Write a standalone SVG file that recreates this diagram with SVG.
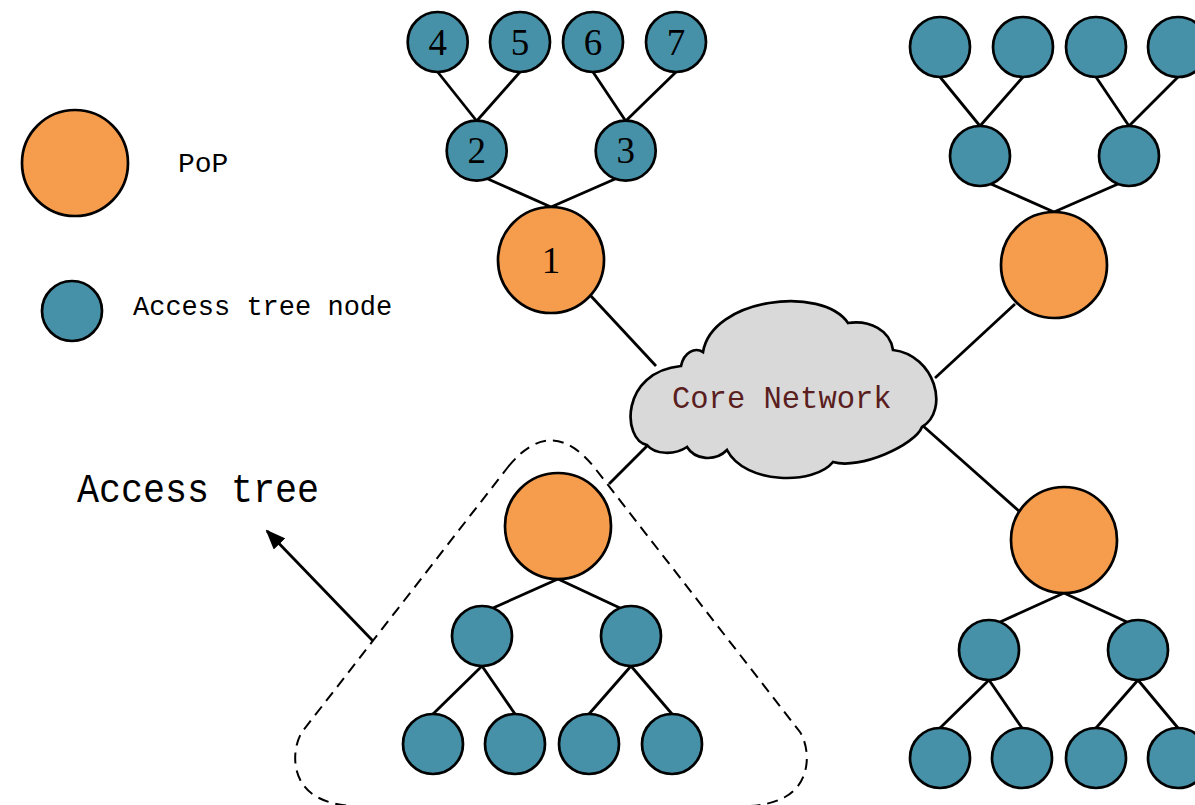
<svg xmlns="http://www.w3.org/2000/svg" width="1195" height="805" viewBox="0 0 1195 805">
<style>
.pop{fill:#f59d4d;stroke:#000;stroke-width:2.7}
.acc{fill:#4691a8;stroke:#000;stroke-width:2.7}
.ln{stroke:#000;stroke-width:2.8;fill:none}
.num{font-family:"Liberation Serif",serif;font-size:37px;text-anchor:middle;fill:#000}
.mono{font-family:"Liberation Mono",monospace;fill:#000}
</style>
<defs>
<marker id="ah" viewBox="0 0 20 16" refX="18" refY="8" markerWidth="20" markerHeight="16" markerUnits="userSpaceOnUse" orient="auto">
<path d="M0,0 L20,8 L0,16 z" fill="#000"/>
</marker>
</defs>
<rect width="1195" height="805" fill="#fff"/>

<g id="connectors">
<line class="ln" x1="437.7" y1="72" x2="476.7" y2="121"/>
<line class="ln" x1="520" y1="72" x2="476.7" y2="121"/>
<line class="ln" x1="593" y1="72" x2="625.7" y2="121"/>
<line class="ln" x1="676" y1="72" x2="625.7" y2="121"/>
<line class="ln" x1="551" y1="207" x2="488" y2="179"/>
<line class="ln" x1="551" y1="207" x2="615" y2="179"/>
<line class="ln" x1="590" y1="295" x2="656" y2="366"/>
<line class="ln" x1="940" y1="77" x2="980" y2="126"/>
<line class="ln" x1="1023" y1="77" x2="980" y2="126"/>
<line class="ln" x1="1096" y1="77" x2="1129" y2="126"/>
<line class="ln" x1="1178" y1="77" x2="1129" y2="126"/>
<line class="ln" x1="1054" y1="212" x2="991" y2="184"/>
<line class="ln" x1="1054" y1="212" x2="1118" y2="184"/>
<line class="ln" x1="1015" y1="304" x2="935" y2="378"/>
<line class="ln" x1="922" y1="425" x2="1020" y2="512"/>
<line class="ln" x1="1064" y1="593" x2="1000" y2="622"/>
<line class="ln" x1="1064" y1="593" x2="1127" y2="622"/>
<line class="ln" x1="989" y1="680" x2="940" y2="728"/>
<line class="ln" x1="989" y1="680" x2="1022" y2="728"/>
<line class="ln" x1="1138" y1="680" x2="1096" y2="728"/>
<line class="ln" x1="1138" y1="680" x2="1178" y2="728"/>
<line class="ln" x1="647" y1="446" x2="609" y2="484"/>
<line class="ln" x1="558" y1="579" x2="493" y2="608"/>
<line class="ln" x1="558" y1="579" x2="620" y2="608"/>
<line class="ln" x1="482" y1="666" x2="433" y2="714"/>
<line class="ln" x1="482" y1="666" x2="515" y2="714"/>
<line class="ln" x1="631" y1="666" x2="589" y2="714"/>
<line class="ln" x1="631" y1="666" x2="672" y2="714"/>
<line class="ln" x1="373" y1="641" x2="267" y2="531" marker-end="url(#ah)"/>
</g>

<g id="cloud">
<path d="M647,445 C622,440 620,372 681,366 C684,352 695,347 703,352 C712,298 822,285 848,323 C870,320 890,330 893,350 C935,355 950,410 922,427 C915,445 860,470 833,462 C815,485 745,485 727,450 C715,462 695,460 687,447 C675,455 655,455 647,445 Z" fill="#d9d9d9" stroke="#000" stroke-width="2.7"/>
<text x="672" y="408" class="mono" font-size="30.5" style="fill:#5a1e1e">Core Network</text>
</g>

<g id="access-tree-outline">
<path d="M508,467 Q551,414 594,467 L800,732 C810,748 812,782 785,797 Q770,805 750,806 L352,806 Q332,805 317,797 C290,782 292,748 302,732 Z" fill="none" stroke="#000" stroke-width="2" stroke-dasharray="11,7"/>
</g>

<g id="tree-top-left">
<g id="n4"><circle class="acc" cx="437.7" cy="42" r="30"/><text class="num" x="437.7" y="54.5">4</text></g>
<g id="n5"><circle class="acc" cx="520" cy="42" r="30"/><text class="num" x="520" y="54.5">5</text></g>
<g id="n6"><circle class="acc" cx="593" cy="42" r="30"/><text class="num" x="593" y="54.5">6</text></g>
<g id="n7"><circle class="acc" cx="676" cy="42" r="30"/><text class="num" x="676" y="54.5">7</text></g>
<g id="n2"><circle class="acc" cx="476.7" cy="150.7" r="30"/><text class="num" x="476.7" y="163">2</text></g>
<g id="n3"><circle class="acc" cx="625.7" cy="150.7" r="30"/><text class="num" x="625.7" y="163">3</text></g>
<g id="n1"><circle class="pop" cx="551" cy="260" r="53"/><text class="num" x="551" y="273">1</text></g>
</g>

<g id="tree-top-right">
<circle class="acc" cx="940" cy="47" r="30"/>
<circle class="acc" cx="1023" cy="47" r="30"/>
<circle class="acc" cx="1096" cy="47" r="30"/>
<circle class="acc" cx="1178" cy="47" r="30"/>
<circle class="acc" cx="980" cy="156" r="30"/>
<circle class="acc" cx="1129" cy="156" r="30"/>
<circle class="pop" cx="1054" cy="265" r="53"/>
</g>

<g id="tree-bottom-right">
<circle class="pop" cx="1064" cy="540" r="53"/>
<circle class="acc" cx="989" cy="650" r="30"/>
<circle class="acc" cx="1138" cy="650" r="30"/>
<circle class="acc" cx="940" cy="758" r="30"/>
<circle class="acc" cx="1022" cy="758" r="30"/>
<circle class="acc" cx="1096" cy="758" r="30"/>
<circle class="acc" cx="1178" cy="758" r="30"/>
</g>

<g id="tree-bottom-middle">
<circle class="pop" cx="558" cy="526" r="53"/>
<circle class="acc" cx="482" cy="636" r="30"/>
<circle class="acc" cx="631" cy="636" r="30"/>
<circle class="acc" cx="433" cy="744" r="30"/>
<circle class="acc" cx="515" cy="744" r="30"/>
<circle class="acc" cx="589" cy="744" r="30"/>
<circle class="acc" cx="672" cy="744" r="30"/>
</g>

<g id="legend">
<g id="legend-pop"><circle class="pop" cx="75" cy="163" r="53"/><text class="mono" x="178" y="172" font-size="28">PoP</text></g>
<g id="legend-access"><circle class="acc" cx="72" cy="311" r="30"/><text class="mono" x="133" y="315" font-size="27">Access tree node</text></g>
</g>

<g id="label-access-tree">
<text class="mono" x="77" y="502" font-size="40" textLength="242" lengthAdjust="spacingAndGlyphs">Access tree</text>
</g>
</svg>
